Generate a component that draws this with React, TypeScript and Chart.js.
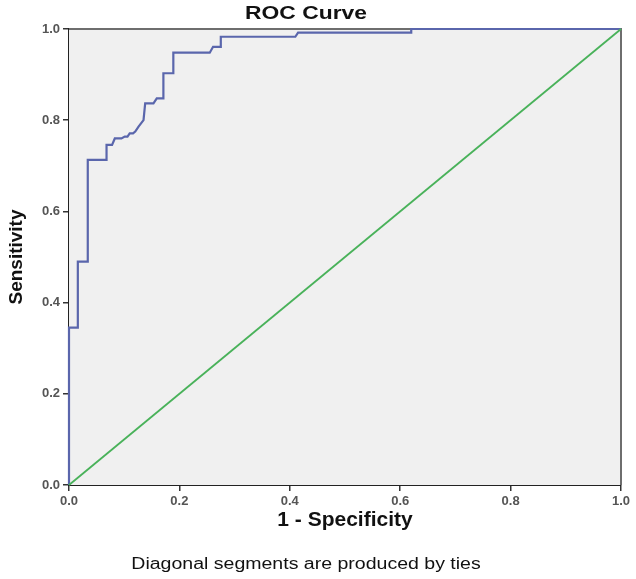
import React, { useEffect, useRef } from "react";
import { Chart, registerables } from "chart.js";

Chart.register(...registerables);

// ROC curve corner points (1 - Specificity, Sensitivity)
const rocX = [0, 0, 0.016, 0.016, 0.034, 0.034, 0.068, 0.068, 0.078, 0.083, 0.095, 0.101, 0.106, 0.11, 0.116, 0.12, 0.126, 0.135, 0.138, 0.153, 0.159, 0.171, 0.171, 0.189, 0.189, 0.255, 0.261, 0.275, 0.275, 0.41, 0.415, 0.62, 0.62, 1];
const rocY = [0, 0.345, 0.345, 0.49, 0.49, 0.713, 0.713, 0.746, 0.746, 0.76, 0.76, 0.764, 0.764, 0.771, 0.771, 0.775, 0.786, 0.8, 0.837, 0.837, 0.848, 0.848, 0.903, 0.903, 0.948, 0.948, 0.961, 0.961, 0.983, 0.983, 0.992, 0.992, 1, 1];
// Reference line
const refX = [0, 1];
const refY = [0, 1];
const tickValues = [0, 0.2, 0.4, 0.6, 0.8, 1.0];

const titleText = "ROC Curve";
const xTitle = "1 - Specificity";
const yTitle = "Sensitivity";
const footnote = "Diagonal segments are produced by ties";

const FONT = "'Liberation Sans', Arial, sans-serif";

function drawStretched(ctx: CanvasRenderingContext2D, text: string, cx: number, baseline: number, font: string, sx: number) {
  ctx.save();
  ctx.font = font;
  ctx.fillStyle = "#111";
  ctx.textAlign = "center";
  ctx.textBaseline = "alphabetic";
  ctx.translate(cx, baseline);
  ctx.scale(sx, 1);
  ctx.fillText(text, 0, 0);
  ctx.restore();
}

const framePlugin = {
  id: "plotFrame",
  beforeDatasetsDraw(chart: any) {
    const { ctx, chartArea } = chart;
    const { left, top, right, bottom } = chartArea;
    ctx.save();
    ctx.fillStyle = "#f0f0f0";
    ctx.fillRect(left, top, right - left, bottom - top);
    ctx.strokeStyle = "#6e6e6e";
    ctx.lineWidth = 2;
    ctx.beginPath();
    ctx.moveTo(left, top);
    ctx.lineTo(right, top);
    ctx.lineTo(right, bottom);
    ctx.stroke();
    ctx.restore();
  },
  afterDraw(chart: any) {
    const { ctx } = chart;
    drawStretched(ctx, titleText, 306, 18.5, `bold 18px ${FONT}`, 1.27);
    drawStretched(ctx, footnote, 306, 569, `16px ${FONT}`, 1.22);
  },
};

export default function App() {
  const canvasRef = useRef<HTMLCanvasElement | null>(null);

  useEffect(() => {
    if (!canvasRef.current) return;
    const rocData = rocX.map((x, i) => ({ x, y: rocY[i] }));
    const refData = refX.map((x, i) => ({ x, y: refY[i] }));
    const tickFont = { size: 13, family: FONT, weight: "bold" as const };

    const chart = new Chart(canvasRef.current, {
      type: "line",
      data: {
        datasets: [
          {
            label: "Reference Line",
            data: refData,
            borderColor: "#49b25a",
            borderWidth: 1.8,
            pointRadius: 0,
            fill: false,
            clip: 4,
          },
          {
            label: "ROC",
            data: rocData,
            borderColor: "#5a66ac",
            borderWidth: 2.2,
            pointRadius: 0,
            fill: false,
            tension: 0,
            clip: 4,
          },
        ],
      },
      options: {
        responsive: false,
        animation: false,
        layout: { padding: { left: 2, right: 15, top: 29, bottom: 44 } },
        plugins: {
          legend: { display: false },
          tooltip: { enabled: false },
          title: { display: false },
        },
        scales: {
          x: {
            type: "linear",
            min: 0,
            max: 1,
            afterBuildTicks: (axis: any) => {
              axis.ticks = tickValues.map((v) => ({ value: v }));
            },
            afterFit: (scale: any) => {
              scale.height = 50;
            },
            ticks: {
              color: "#555",
              font: tickFont,
              padding: 3,
              maxRotation: 0,
              callback: (v: any) => Number(v).toFixed(1),
            },
            grid: {
              drawOnChartArea: false,
              drawTicks: true,
              tickLength: 6,
              color: "#333",
              lineWidth: 1.5,
            },
            border: { color: "#222", width: 2 },
            title: {
              display: true,
              text: xTitle,
              color: "#111",
              font: { size: 21, weight: "bold", family: FONT },
              padding: { top: 2, bottom: 2 },
            },
          },
          y: {
            type: "linear",
            min: 0,
            max: 1,
            afterBuildTicks: (axis: any) => {
              axis.ticks = tickValues.map((v) => ({ value: v }));
            },
            afterFit: (scale: any) => {
              scale.width = 67;
            },
            ticks: {
              color: "#555",
              font: tickFont,
              padding: 3,
              callback: (v: any) => Number(v).toFixed(1),
            },
            grid: {
              drawOnChartArea: false,
              drawTicks: true,
              tickLength: 6,
              color: "#333",
              lineWidth: 1.5,
            },
            border: { color: "#222", width: 2 },
            title: {
              display: true,
              text: yTitle,
              color: "#111",
              font: { size: 19, weight: "bold", family: FONT },
              padding: { top: 3, bottom: 3 },
            },
          },
        },
      },
      plugins: [framePlugin],
    });
    return () => chart.destroy();
  }, []);

  return (
    <div style={{ position: "absolute", left: 0, top: 0, width: 636, height: 579 }}>
      <canvas ref={canvasRef} width={636} height={579} style={{ display: "block" }} />
    </div>
  );
}
